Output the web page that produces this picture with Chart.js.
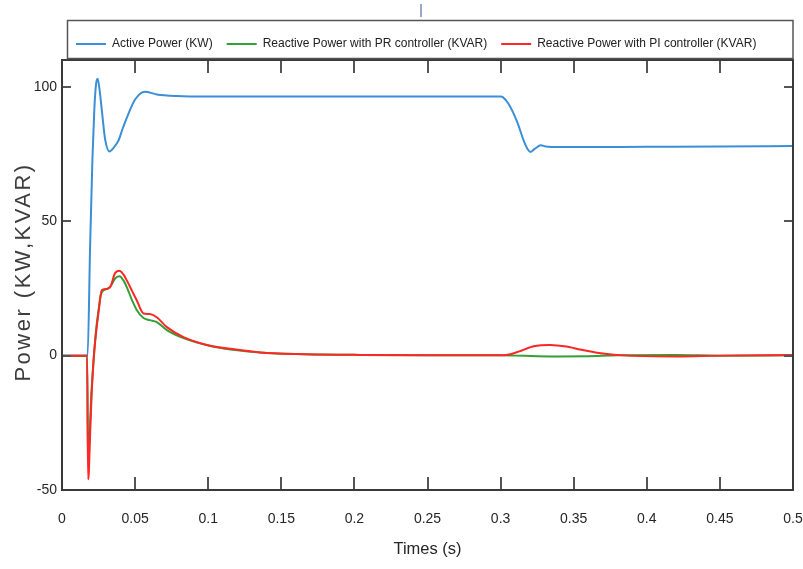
<!DOCTYPE html>
<html>
<head>
<meta charset="utf-8">
<title>Active and reactive power</title>
<script src="https://cdn.jsdelivr.net/npm/chart.js@4.4.1/dist/chart.umd.min.js"></script>
<style>
  html, body { margin: 0; padding: 0; background: #fff; }
</style>
</head>
<body>
<canvas id="powerChart" width="803" height="569"></canvas>
<script>
// values (time in s, power in kW / kVAR)
const activeTime  = [0, 0.0175, 0.0192, 0.0208, 0.0221, 0.0233, 0.0244, 0.0258, 0.0272, 0.0295,
                     0.0324, 0.0355, 0.0386, 0.0415, 0.0443, 0.05, 0.0568, 0.0648, 0.0785, 0.1,
                     0.15, 0.2, 0.25, 0.3, 0.3015, 0.3055, 0.3114, 0.3158, 0.3185, 0.3205,
                     0.3235, 0.3275, 0.331, 0.34, 0.4, 0.45, 0.5];
const activePower = [0, 0, 40, 73, 91.5, 101, 103, 98.5, 91.5, 80.5,
                     76, 77.5, 80, 84.5, 88.5, 95.3, 98.2, 97.2, 96.6, 96.4,
                     96.4, 96.4, 96.4, 96.4, 96.2, 93.6, 86.9, 80, 76.8, 75.8,
                     77, 78.3, 77.8, 77.6, 77.7, 77.8, 78];

const prTime     = [0, 0.0172, 0.0178, 0.0183, 0.019, 0.02, 0.0215, 0.0232, 0.025, 0.0265,
                    0.0285, 0.031, 0.0335, 0.036, 0.0393, 0.042, 0.0443, 0.048, 0.0511, 0.0557,
                    0.06, 0.0648, 0.0717, 0.0831, 0.1014, 0.12, 0.1356, 0.16, 0.2, 0.25,
                    0.3, 0.31, 0.325, 0.34, 0.36, 0.38, 0.42, 0.45, 0.5];
const reactivePR = [0, 0, -40, -38, -28, -15, -3, 9, 17, 22.5,
                    24.3, 24.8, 26, 28.5, 29.5, 28, 25.5, 20.5, 17, 14,
                    13.2, 12.5, 9.5, 6.5, 3.6, 2.0, 1.2, 0.6, 0.3, 0.1,
                    0.1, 0, -0.2, -0.3, -0.2, 0.1, 0.2, 0, 0.1];

const piTime     = [0, 0.0172, 0.0178, 0.0183, 0.019, 0.02, 0.0215, 0.0232, 0.0249, 0.0272,
                    0.03, 0.0329, 0.0363, 0.0393, 0.042, 0.0443, 0.048, 0.0511, 0.0557, 0.06,
                    0.0648, 0.0717, 0.0831, 0.1014, 0.12, 0.1356, 0.16, 0.2, 0.25, 0.3,
                    0.3046, 0.3123, 0.3226, 0.334, 0.345, 0.3525, 0.3685, 0.3868, 0.42, 0.45,
                    0.5];
const reactivePI = [0, 0, -46, -44, -33, -18, -2, 8, 15.7, 24.3,
                    24.8, 25.5, 30.7, 31.6, 30.2, 28, 24, 20.6, 15.7, 15.5,
                    14.3, 10.6, 6.9, 3.7, 2.2, 1.2, 0.6, 0.3, 0.1, 0.1,
                    0.3, 1.5, 3.5, 4.0, 3.4, 2.5, 0.9, 0, -0.3, 0,
                    0.2];

const xTickValues = [0, 0.05, 0.1, 0.15, 0.2, 0.25, 0.3, 0.35, 0.4, 0.45, 0.5];
const xTickLabels = ['0', '0.05', '0.1', '0.15', '0.2', '0.25', '0.3', '0.35', '0.4', '0.45', '0.5'];
const yTickValues = [-50, 0, 50, 100];
const yTickLabels = ['-50', '0', '50', '100'];

const sans = "'Liberation Sans', Arial, sans-serif";

function points(times, values) {
    return times.map((t, i) => ({ x: t, y: values[i] }));
}

// box frame with inward ticks, legend border, rotated y title
const framePlugin = {
    id: 'frame',
    afterDatasetsDraw(chart) {
        const { ctx, chartArea: a, scales: { x, y } } = chart;
        ctx.save();
        ctx.strokeStyle = '#555';
        ctx.lineWidth = 2;
        ctx.beginPath();
        x.ticks.forEach(t => {
            const px = Math.round(x.getPixelForValue(t.value));
            ctx.moveTo(px, a.bottom); ctx.lineTo(px, a.bottom - 13);
            ctx.moveTo(px, a.top); ctx.lineTo(px, a.top + 13);
        });
        y.ticks.forEach(t => {
            const py = Math.round(y.getPixelForValue(t.value));
            ctx.moveTo(a.left, py); ctx.lineTo(a.left + 9, py);
            ctx.moveTo(a.right, py); ctx.lineTo(a.right - 9, py);
        });
        ctx.stroke();
        ctx.strokeStyle = '#3a3a3a';
        ctx.strokeRect(a.left, a.top, a.right - a.left, a.bottom - a.top);
        ctx.restore();
    },
    afterDraw(chart) {
        const { ctx, chartArea: a } = chart;
        ctx.save();
        // legend border
        ctx.strokeStyle = '#555';
        ctx.lineWidth = 1.5;
        ctx.strokeRect(a.left + 5.5, 20.5, a.right - a.left - 5.5, a.top - 22);
        // small mark above legend
        ctx.strokeStyle = '#9aa8cc';
        ctx.lineWidth = 2;
        ctx.beginPath();
        ctx.moveTo(421, 4); ctx.lineTo(421, 17);
        ctx.stroke();
        // y axis title
        ctx.translate(24, (a.top + a.bottom) / 2 - 3);
        ctx.rotate(-Math.PI / 2);
        ctx.font = "22px " + sans;
        ctx.letterSpacing = '2.5px';
        ctx.fillStyle = '#3d3d3d';
        ctx.textAlign = 'center';
        ctx.textBaseline = 'middle';
        ctx.fillText('Power (KW,KVAR)', 0, 0);
        ctx.restore();
    }
};

const ctx = document.getElementById('powerChart').getContext('2d');

const powerChart = new Chart(ctx, {
    type: 'line',
    data: {
        datasets: [{
            label: 'Active Power (KW)',
            data: points(activeTime, activePower),
            borderColor: '#3a8fd8',
            backgroundColor: '#3a8fd8',
            order: 2
        }, {
            label: 'Reactive Power with PR controller (KVAR)',
            data: points(prTime, reactivePR),
            borderColor: '#33a033',
            backgroundColor: '#33a033',
            order: 1
        }, {
            label: 'Reactive Power with PI controller (KVAR)',
            data: points(piTime, reactivePI),
            borderColor: '#ff2626',
            backgroundColor: '#ff2626',
            order: 0
        }]
    },
    options: {
        responsive: false,
        animation: false,
        devicePixelRatio: 1,
        datasets: {
            line: {
                borderWidth: 2,
                pointRadius: 0,
                cubicInterpolationMode: 'monotone'
            }
        },
        layout: {
            padding: { top: 24, left: 0, right: 10, bottom: 0 }
        },
        plugins: {
            tooltip: { enabled: false },
            legend: {
                position: 'top',
                align: 'start',
                fullSize: false,
                labels: {
                    usePointStyle: true,
                    pointStyle: 'line',
                    pointStyleWidth: 30,
                    padding: 14,
                    color: '#222',
                    font: { family: sans, size: 12 },
                    sort: (a, b) => a.datasetIndex - b.datasetIndex
                }
            }
        },
        scales: {
            x: {
                type: 'linear',
                min: 0,
                max: 0.5,
                afterBuildTicks: axis => { axis.ticks = xTickValues.map(v => ({ value: v })); },
                afterFit: axis => { axis.height = 79; axis.paddingLeft = 0; axis.paddingRight = 0; },
                grid: { display: false, drawTicks: false },
                border: { display: false },
                ticks: {
                    padding: 21,
                    maxRotation: 0,
                    color: '#262626',
                    font: { family: sans, size: 14 },
                    callback: (v, i) => xTickLabels[i]
                },
                title: {
                    display: true,
                    text: 'Times (s)',
                    color: '#262626',
                    font: { family: sans, size: 16.5 },
                    padding: { top: 0, bottom: 10 }
                }
            },
            y: {
                min: -50,
                max: 110,
                afterBuildTicks: axis => { axis.ticks = yTickValues.map(v => ({ value: v })); },
                afterFit: axis => { axis.width = 62; },
                grid: { display: false, drawTicks: false },
                border: { display: false },
                ticks: {
                    padding: 5,
                    color: '#262626',
                    font: { family: sans, size: 14 },
                    callback: (v, i) => yTickLabels[i]
                }
            }
        }
    },
    plugins: [framePlugin]
});
</script>
</body>
</html>
